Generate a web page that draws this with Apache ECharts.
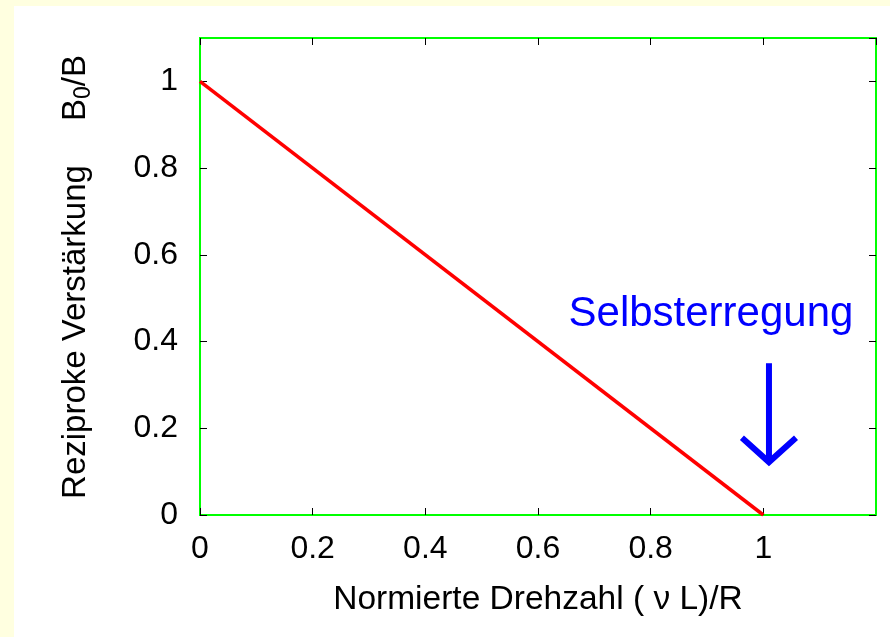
<!DOCTYPE html>
<html>
<head>
<meta charset="utf-8">
<script src="https://cdn.jsdelivr.net/npm/echarts@6/dist/echarts.min.js"></script>
<style>
  html, body { margin: 0; padding: 0; background: #ffffe0; width: 890px; height: 637px; overflow: hidden; }
  #chart { position: absolute; left: 14px; top: 6px; width: 876px; height: 631px; background: #ffffff; }
</style>
</head>
<body>
<div id="chart"></div>
<script>
// Reciprocal gain B0/B versus normalised rotation speed (nu L)/R
const drehzahl = [0, 1];
const reziprokeVerstaerkung = [1, 0];

// Axis ranges and tick step
const xRange = [0, 1.2];
const yRange = [0, 1.1];
const tickStep = 0.2;

// Self-excitation marker (data units): arrow shaft, arrow head, caption anchor
const arrowShaft = [[1.01, 0.35], [1.01, 0.122]];
const arrowHead = [[0.962, 0.178], [1.01, 0.122], [1.058, 0.178]];
const captionAnchor = [[0.907, 0.462]];
const captionText = 'Selbsterregung';

const FONT = "'Liberation Sans', Arial, Helvetica, sans-serif";

const chart = echarts.init(document.getElementById('chart'), null, { renderer: 'canvas' });

// Inward-pointing black ticks, one fresh object per axis
function ticks() {
  return { show: true, inside: true, length: 7, lineStyle: { color: '#000', width: 1 } };
}
// Frame lines stay on the grid edges (not on the other axis' zero)
function frameLine() {
  return { show: true, onZero: false, lineStyle: { color: '#00ff00', width: 2 } };
}
const numberLabel = v => String(Math.round(v * 10) / 10);

const option = {
  animation: false,
  backgroundColor: '#ffffff',
  textStyle: { fontFamily: FONT },
  grid: {
    left: 186, right: 14, top: 32, bottom: 122,
    show: true,
    borderColor: '#00ff00',
    borderWidth: 2,
    backgroundColor: '#ffffff'
  },
  xAxis: [
    {
      type: 'value', position: 'bottom',
      min: xRange[0], max: xRange[1], interval: tickStep,
      axisLine: frameLine(),
      axisTick: ticks(),
      splitLine: { show: false },
      axisLabel: {
        show: true, inside: false, margin: 18, color: '#000', fontSize: 32, fontFamily: FONT,
        showMaxLabel: false,
        formatter: numberLabel
      },
      name: 'Normierte Drehzahl ( ν L)/R',
      nameLocation: 'middle',
      nameGap: 68,
      nameTextStyle: { color: '#000', fontSize: 33.5, fontFamily: FONT }
    },
    {
      type: 'value', position: 'top',
      min: xRange[0], max: xRange[1], interval: tickStep,
      axisLine: frameLine(),
      axisTick: ticks(),
      splitLine: { show: false },
      axisLabel: { show: false }
    }
  ],
  yAxis: [
    {
      type: 'value', position: 'left',
      min: yRange[0], max: yRange[1], interval: tickStep,
      axisLine: frameLine(),
      axisTick: ticks(),
      splitLine: { show: false },
      axisLabel: {
        show: true, inside: false, margin: 22, color: '#000', fontSize: 32, fontFamily: FONT,
        showMaxLabel: false,
        formatter: numberLabel
      }
    },
    {
      type: 'value', position: 'right',
      min: yRange[0], max: yRange[1], interval: tickStep,
      axisLine: frameLine(),
      axisTick: ticks(),
      splitLine: { show: false },
      axisLabel: { show: false }
    }
  ],
  graphic: [
    {
      type: 'text',
      x: 62, y: 326,
      rotation: Math.PI / 2,
      style: {
        text: 'Reziproke Verstärkung',
        fill: '#000',
        font: '33px ' + FONT,
        align: 'center',
        verticalAlign: 'middle'
      }
    },
    {
      type: 'text',
      x: 62, y: 82,
      rotation: Math.PI / 2,
      style: {
        text: 'B{sub|0}/B',
        fill: '#000',
        font: '33px ' + FONT,
        align: 'center',
        verticalAlign: 'middle',
        rich: {
          sub: { fontSize: 23, fontFamily: FONT, fill: '#000', padding: [16, 0, 0, 0], verticalAlign: 'bottom' }
        }
      }
    }
  ],
  series: [
    {
      name: 'B0/B',
      type: 'line',
      xAxisIndex: 0, yAxisIndex: 0,
      data: drehzahl.map((x, i) => [x, reziprokeVerstaerkung[i]]),
      showSymbol: false,
      symbol: 'none',
      lineStyle: { color: '#ff0000', width: 3.5 },
      z: 5
    },
    {
      type: 'line',
      xAxisIndex: 0, yAxisIndex: 0,
      data: arrowShaft,
      symbol: 'none',
      lineStyle: { color: '#0000ff', width: 6, cap: 'butt' },
      z: 6
    },
    {
      type: 'line',
      xAxisIndex: 0, yAxisIndex: 0,
      data: arrowHead,
      symbol: 'none',
      lineStyle: { color: '#0000ff', width: 6, cap: 'butt', join: 'miter' },
      z: 6
    },
    {
      type: 'scatter',
      xAxisIndex: 0, yAxisIndex: 0,
      data: captionAnchor,
      symbolSize: 0,
      itemStyle: { color: 'transparent', opacity: 1 },
      label: {
        show: true,
        position: 'inside',
        formatter: captionText,
        color: '#0000ff',
        opacity: 1,
        fontSize: 42,
        fontFamily: FONT
      },
      z: 7
    }
  ]
};

chart.setOption(option);
</script>
</body>
</html>
